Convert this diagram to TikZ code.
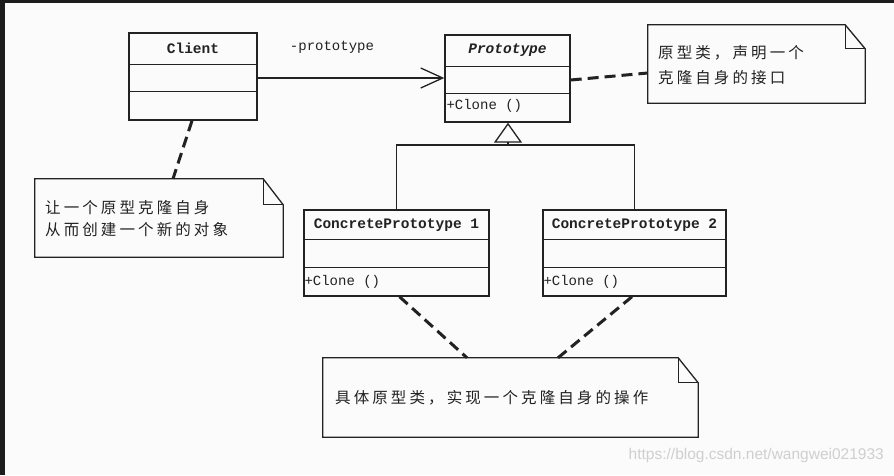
\documentclass[tikz,border=0pt]{standalone}
\usepackage{fontspec}
\usetikzlibrary{arrows.meta,calc}
\newfontfamily\monof{Liberation Mono}
\newfontfamily\cjkf[LetterSpace=20]{Noto Sans CJK SC}
\newfontfamily\wmf{Liberation Sans}
\definecolor{linec}{HTML}{222222}
\definecolor{bgc}{HTML}{FBFBFB}
\definecolor{framec}{HTML}{1C1C1C}
\definecolor{wmc}{HTML}{CFCFCF}
\tikzset{
  cls/.style={draw=linec, line width=1.4pt, rectangle, inner sep=0pt},
  notebox/.style={rectangle, inner sep=0pt},
  notepath/.style={draw=linec, line width=1.3pt, line join=miter},
  ttl/.style={font=\monof\bfseries\fontsize{14.5}{16}\selectfont, text=linec, inner sep=0pt},
  mth/.style={font=\monof\fontsize{14}{16}\selectfont, text=linec, inner sep=0pt, anchor=west},
  cjktxt/.style={font=\cjkf\fontsize{15.5}{22}\selectfont, text=linec, inner sep=0pt, align=left},
  dashlink/.style={draw=linec, line width=3pt, dash pattern=on 11pt off 6pt},
  sepline/.style={draw=linec, line width=1.3pt}
}
\begin{document}
\begin{tikzpicture}[x=1pt,y=-1pt]
\useasboundingbox (0,0) rectangle (894,475);
\fill[bgc] (0,0) rectangle (894,475);
\fill[framec] (0,0) rectangle (894,3);
\fill[framec] (0,0) rectangle (5,475);

% classes
\node[cls, minimum width=128pt, minimum height=87pt] (client) at (193,76.5) {};
\node[cls, minimum width=125pt, minimum height=87pt] (proto) at (507.5,78.5) {};
\node[cls, minimum width=185pt, minimum height=86pt] (cp1) at (396.5,253) {};
\node[cls, minimum width=183pt, minimum height=86pt] (cp2) at (634.5,253) {};

\foreach \n/\a/\b in {client/32/59, proto/32/59, cp1/30/58, cp2/30/58}{
  \draw[sepline] ([yshift=-\a pt]\n.north west) -- ([yshift=-\a pt]\n.north east);
  \draw[sepline] ([yshift=-\b pt]\n.north west) -- ([yshift=-\b pt]\n.north east);
}

\node[ttl] (clientT) at ([yshift=-16pt]client.north) {Client};
\node[ttl, font=\monof\bfseries\itshape\fontsize{14.5}{16}\selectfont] (protoT) at ([yshift=-16pt]proto.north) {Prototype};
\node[ttl] (cp1T) at ([yshift=-16pt]cp1.north) {ConcretePrototype 1};
\node[ttl] (cp2T) at ([yshift=-16pt]cp2.north) {ConcretePrototype 2};

\node[mth] (protoM) at ([xshift=2pt,yshift=-72pt]proto.north west) {+Clone ()};
\node[mth] (cp1M) at ([xshift=1pt,yshift=-73pt]cp1.north west) {+Clone ()};
\node[mth] (cp2M) at ([xshift=1pt,yshift=-73pt]cp2.north west) {+Clone ()};

% association
\coordinate (clientR) at ([yshift=-1.5pt]client.east);
\draw[linec, line width=1.3pt, -{Straight Barb[length=22pt,width=20pt,line width=1.3pt]}]
  (clientR) -- (clientR -| proto.west);
\node[mth, anchor=center] (assocL) at (332,47) {-prototype};

% generalization
\coordinate (junc) at (508,145);
\draw[linec, line width=1.3pt] (cp1.north) |- (junc) -| (cp2.north);
\draw[linec, line width=1.3pt, -{Triangle[open, length=20pt, width=28pt, line width=1.3pt]}]
  (junc) -- (junc |- proto.south);

% notes
\node[notebox, minimum width=217pt, minimum height=78pt] (n1) at (756.5,64) {};
\node[notebox, minimum width=248pt, minimum height=78pt] (n2) at (159,218) {};
\node[notebox, minimum width=375pt, minimum height=79pt] (n3) at (510.5,397.5) {};

\foreach \n/\fx/\fy in {n1/20/24, n2/20/26, n3/20/25}{
  \draw[notepath] (\n.north west) -- ([xshift=-\fx pt]\n.north east)
    -- ([yshift=-\fy pt]\n.north east) -- (\n.south east) -- (\n.south west) -- cycle;
  \draw[notepath] ([xshift=-\fx pt]\n.north east) -- ([xshift=-\fx pt,yshift=-\fy pt]\n.north east)
    -- ([yshift=-\fy pt]\n.north east);
}

\node[cjktxt, anchor=west, font=\cjkf\fontsize{15.5}{25}\selectfont] (n1T) at (658,65.5) {原型类，声明一个\\克隆自身的接口};
\node[cjktxt, anchor=west] (n2T) at (45,219) {让一个原型克隆自身\\从而创建一个新的对象};
\node[cjktxt, anchor=west] (n3T) at (335,398) {具体原型类，实现一个克隆自身的操作};

% note links
\draw[dashlink] ([xshift=-1pt]client.south) -- ([xshift=14pt]n2.north);
\draw[dashlink] ([yshift=-1.5pt]proto.east) -- ([yshift=-9pt]n1.west);
\draw[dashlink] ([xshift=3pt]cp1.south) -- ([xshift=-43.5pt]n3.north);
\draw[dashlink] ([xshift=-2.5pt]cp2.south) -- ([xshift=47.5pt]n3.north);

% watermark
\node[font=\wmf\fontsize{15.5}{18}\selectfont, text=wmc, anchor=east, inner sep=0pt] (wm) at (884,455) {https://blog.csdn.net/wangwei021933};
\end{tikzpicture}
\end{document}
